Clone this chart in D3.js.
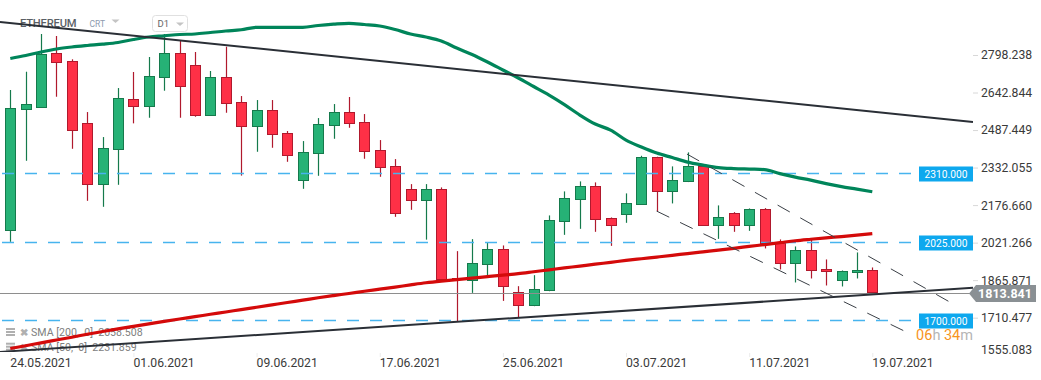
<!DOCTYPE html>
<html><head><meta charset="utf-8">
<script src="https://cdn.jsdelivr.net/npm/d3@7"></script>
<style>
body{margin:0;background:#fff;}
svg{display:block;font-family:Roboto,'Noto Sans',sans-serif;}
</style>
</head><body>
<svg id="chart" width="1041" height="380"></svg>
<script>
// ---------- DATA ----------
const instrument = "ETHEREUM";
const timeframe = "D1";
const opens  = [2070.1,2573.2,2584.0,2805.3,2772.1,2515.2,2262.4,2407.4,2614.6,2584.0,2705.8,2805.3,2755.5,2548.3,2705.8,2602.2,2501.1,2569.0,2473.7,2279.0,2390.8,2506.9,2560.7,2519.3,2403.3,2337.0,2241.7,2196.1,2241.7,1873.0,1864.6,1930.9,1993.0,1814.8,1761.0,1823.1,2109.1,2200.2,2254.1,2121.5,2138.1,2179.5,2374.3,2233.4,2274.8,2337.0,2092.5,2142.2,2092.5,2158.8,2017.9,1935.0,1988.9,1910.1,1864.6,1897.7,1906.0];
const highs  = [2653.2,2729.0,2885.2,2876.9,2780.4,2562.0,2458.4,2661.4,2727.8,2789.9,2885.2,2860.4,2810.7,2731.9,2832.6,2628.3,2611.7,2611.7,2483.3,2441.8,2537.1,2595.1,2624.2,2553.7,2446.0,2367.2,2263.6,2263.6,2249.9,1986.0,2035.7,2022.0,2009.6,1840.9,1886.5,2133.9,2233.4,2274.8,2270.7,2125.6,2225.1,2380.9,2377.0,2337.0,2395.0,2342.4,2175.4,2147.6,2162.9,2164.2,2034.5,2005.5,2034.5,1951.6,1906.0,1980.6,1918.4];
const lows   = [2024.5,2360.2,2582.0,2625.4,2409.9,2194.4,2169.6,2260.7,2515.2,2538.4,2650.3,2538.4,2542.5,2546.0,2559.1,2298.8,2397.5,2414.1,2356.0,2244.1,2298.0,2451.3,2496.9,2368.5,2293.9,2128.1,2157.1,2033.6,1866.0,1693.0,1813.2,1885.3,1780.0,1711.2,1758.0,1820.0,2053.5,2078.4,2066.0,2007.9,2103.3,2177.0,2150.5,2183.6,2272.0,2090.0,2036.9,2066.0,2070.1,1997.2,1910.1,1856.3,1872.8,1843.8,1839.7,1872.8,1805.0];
const closes = [2577.3,2593.9,2802.4,2766.3,2486.2,2262.4,2411.6,2618.8,2584.0,2709.9,2805.3,2668.5,2548.3,2705.8,2598.0,2501.1,2569.0,2469.6,2382.6,2395.0,2511.0,2560.7,2515.2,2399.1,2331.2,2142.2,2196.1,2241.7,1868.7,1869.0,1935.0,1993.0,1839.7,1761.0,1827.3,2113.2,2204.4,2254.1,2117.3,2092.5,2183.6,2374.3,2233.4,2279.0,2337.0,2092.5,2125.6,2092.5,2158.8,2017.9,1935.0,1988.9,1906.0,1901.8,1901.8,1906.0,1813.841];
const sma50  = [2783.7,2796.2,2810.7,2823.1,2831.4,2837.6,2843.0,2850.0,2862.5,2872.8,2877.8,2883.2,2885.3,2891.5,2897.7,2902.7,2913.0,2913.0,2913.0,2913.0,2920.5,2925.9,2929.6,2924.6,2918.4,2903.9,2885.3,2872.8,2856.3,2827.2,2800.3,2769.2,2736.1,2702.9,2667.7,2632.5,2593.1,2549.6,2512.3,2487.4,2445.8,2417.2,2392.1,2373.5,2354.8,2342.4,2332.0,2327.9,2325.8,2323.8,2307.2,2292.7,2280.2,2265.7,2253.3,2242.9,2231.859];
const sma200 = [1582.8,1594.4,1606.4,1618.0,1629.6,1642.0,1653.2,1664.0,1674.4,1684.7,1695.1,1705.0,1714.5,1724.5,1734.0,1744.0,1753.5,1763.4,1773.4,1782.9,1792.9,1802.0,1810.7,1819.8,1828.5,1837.2,1846.3,1855.0,1862.1,1868.3,1874.5,1880.7,1886.9,1892.8,1900.6,1908.5,1916.4,1924.2,1932.1,1939.6,1947.4,1954.5,1961.5,1968.6,1976.0,1983.1,1990.1,1997.6,2005.5,2013.3,2021.2,2029.1,2035.3,2041.1,2046.5,2052.3,2058.508];
const dateTickIdx = [0,8,16,24,32,40,48,56];
const dateTickLabels = ["24.05.2021","01.06.2021","09.06.2021","17.06.2021","25.06.2021","03.07.2021","11.07.2021","19.07.2021"];
const priceTicks = [2798.238,2642.844,2487.449,2332.055,2176.660,2021.266,1865.871,1710.477,1555.083];
const levels = [2310, 2025, 1700];
const lastPrice = 1813.841;
const trendUpper = [[-0.67, 2935.0],[62.54, 2520.6]];
const trendLower = [[-0.67, 1568.7],[62.54, 1833.9]];
const channelUpper = [[43.96, 2388.0],[61.05, 1774.7]];
const channelLower = [[41.99, 2151.8],[58.64, 1637.9]];
const legendNames = ["SMA [200, 0]", "SMA [50, 0]"];
const legendValues = [2058.508, 2231.859];
const timerParts = [["06","#f7941d"],["h","#b5b5b5"],[" 34","#f7941d"],["m","#b5b5b5"]];

// ---------- CHART ----------
const svg = d3.select("#chart");
const plotRight = 973;
const x = d3.scaleLinear().domain([0, 56]).range([10.3, 872.3]);
const y = d3.scaleLinear().domain([1555.083, 2798.238]).range([355.2, 55]);

const GREEN = "#26b276", GREEN_D = "#157a4c", RED = "#fe3046", RED_D = "#b0192d";

svg.append("defs").append("clipPath").attr("id","plot")
  .append("rect").attr("x",0).attr("y",0).attr("width",plotRight).attr("height",352);

// header
const hdr = svg.append("g");
hdr.append("text").attr("x",20).attr("y",27).attr("font-size",11.2).attr("font-weight",500)
  .attr("fill","#5a5f66").attr("letter-spacing",-0.2).text(instrument);
hdr.append("text").attr("x",89.5).attr("y",27).attr("font-size",8.5).attr("fill","#8c9aae").text("CRT");
hdr.append("path").attr("d","M111.5,19.5 L119.5,19.5 L115.5,23 Z").attr("fill","#c4c4c4");
hdr.append("rect").attr("x",152.5).attr("y",15.5).attr("width",35).attr("height",16).attr("rx",3)
  .attr("fill","#fff").attr("stroke","#e0e0e0");
hdr.append("text").attr("x",157.5).attr("y",27).attr("font-size",9.5).attr("fill","#666").text(timeframe);
hdr.append("path").attr("d","M176,22.5 L184,22.5 L180,26 Z").attr("fill","#c4c4c4");

// legend (below lines)
const leg = svg.append("g");
legendNames.forEach((n,i)=>{
  const by = 336 + i*14.7;
  const ic = leg.append("g").attr("fill","#b0b0b0");
  ic.append("rect").attr("x",6).attr("y",by-8).attr("width",9).attr("height",2);
  ic.append("rect").attr("x",6).attr("y",by-5).attr("width",9).attr("height",2);
  ic.append("rect").attr("x",6).attr("y",by-2).attr("width",9).attr("height",2);
  leg.append("text").attr("x",19.5).attr("y",by).attr("font-size",10).attr("font-weight",700)
    .attr("fill","#b0b0b0").text("\u2716");
  leg.append("text").attr("x",31).attr("y",by).attr("font-size",10.6).attr("fill","#808080")
    .attr("xml:space","preserve").text(n.replace("[","[").replace(", ",",  ") + "  " + d3.format(".3f")(legendValues[i]));
});

// candles
const candles = d3.range(opens.length).map(i=>({i,o:opens[i],h:highs[i],l:lows[i],c:closes[i]}));
const cg = svg.append("g").attr("clip-path","url(#plot)");
const cand = cg.selectAll("g.c").data(candles).join("g");
cand.append("line")
  .attr("x1",d=>Math.round(x(d.i))+0.5).attr("x2",d=>Math.round(x(d.i))+0.5)
  .attr("y1",d=>y(d.h)).attr("y2",d=>y(d.l))
  .attr("stroke",d=>d.c>=d.o?GREEN_D:RED_D).attr("stroke-width",1.2);
cand.append("rect")
  .attr("x",d=>Math.round(x(d.i))-5+0.5).attr("width",10)
  .attr("y",d=>Math.round(y(Math.max(d.o,d.c)))+0.5)
  .attr("height",d=>Math.max(1,Math.round(Math.abs(y(d.o)-y(d.c)))))
  .attr("fill",d=>d.c>=d.o?GREEN:RED)
  .attr("stroke",d=>d.c>=d.o?GREEN_D:RED_D).attr("stroke-width",1);

const lg = svg.append("g").attr("clip-path","url(#plot)");
// horizontal levels
levels.forEach(v=>{
  lg.append("line").attr("x1",0).attr("x2",919).attr("y1",Math.round(y(v))+0.5).attr("y2",Math.round(y(v))+0.5)
    .attr("stroke","#47b4ee").attr("stroke-width",1.6).attr("stroke-dasharray","12,11").attr("stroke-dashoffset",-2);
});
// current price line
lg.append("line").attr("x1",0).attr("x2",plotRight).attr("y1",Math.round(y(lastPrice))+0.5).attr("y2",Math.round(y(lastPrice))+0.5)
  .attr("stroke","#8e8e8e").attr("stroke-width",1);

// SMA lines
const line = d3.line().x((d,i)=>x(i)).y(d=>y(d)).curve(d3.curveMonotoneX);
lg.append("path").datum(sma200).attr("d",line).attr("fill","none").attr("stroke","#d40a0a").attr("stroke-width",3.2);
lg.append("path").datum(sma50).attr("d",line).attr("fill","none").attr("stroke","#00855a").attr("stroke-width",3.2);

// trend lines
const seg = d3.line().x(d=>x(d[0])).y(d=>y(d[1]));
[trendUpper, trendLower].forEach(t=>{
  lg.append("path").datum(t).attr("d",seg).attr("stroke","#2a2f36").attr("stroke-width",2).attr("fill","none");
});
[channelUpper, channelLower].forEach(t=>{
  lg.append("path").datum(t).attr("d",seg).attr("stroke","#3a3f46").attr("stroke-width",1)
    .attr("stroke-dasharray","14,12").attr("fill","none");
});

// level labels
levels.forEach(v=>{
  const yy = Math.round(y(v));
  svg.append("rect").attr("x",919).attr("y",yy-6.5).attr("width",54).attr("height",15).attr("fill","#0ea8ee");
  svg.append("text").attr("x",946).attr("y",yy+4.8).attr("text-anchor","middle").attr("font-size",10.2)
    .attr("fill","#fff").text(d3.format(".3f")(v));
});

// right axis
const yAxis = d3.axisRight(y).tickValues(priceTicks).tickFormat(d3.format(".3f")).tickSize(5).tickPadding(3);
const ya = svg.append("g").attr("transform",`translate(${plotRight},0)`).call(yAxis);
ya.select(".domain").remove();
ya.selectAll(".tick line").attr("stroke","#d8d8d8");
ya.selectAll(".tick text").attr("font-size",12.2).attr("fill","#3a3a3a").attr("font-family","Roboto,sans-serif");
ya.selectAll(".tick").filter(d=>d===priceTicks[priceTicks.length-1])
  .attr("transform",`translate(0,${y(priceTicks[priceTicks.length-1])-5})`).select("line").remove();

// bottom axis
const xAxis = d3.axisBottom(x).tickValues(dateTickIdx).tickFormat((d,i)=>dateTickLabels[i]).tickSize(4);
const xa = svg.append("g").attr("transform","translate(0,353)").call(xAxis);
xa.select(".domain").remove();
xa.selectAll(".tick line").attr("stroke","#ececec");
xa.selectAll(".tick text").attr("text-anchor","start").attr("y",14).attr("dy",0).attr("x",-0.5)
  .attr("font-size",12.2).attr("fill","#3a3a3a").attr("font-family","Roboto,sans-serif");

// current price label
const py = Math.round(y(lastPrice))+0.5;
svg.append("path").attr("d",`M969,${py} L976,${py-8.5} L1036,${py-8.5} L1036,${py+8.5} L976,${py+8.5} Z`).attr("fill","#8a9094");
svg.append("text").attr("x",1005).attr("y",py+4.5).attr("text-anchor","middle").attr("font-size",12.5)
  .attr("font-weight",700).attr("fill","#fff").text(d3.format(".3f")(lastPrice));

// timer
const tt = svg.append("text").attr("x",973).attr("y",340).attr("text-anchor","end").attr("font-size",14.5)
  .attr("xml:space","preserve");
timerParts.forEach(p=>tt.append("tspan").attr("fill",p[1]).text(p[0]));
</script>
</body></html>
